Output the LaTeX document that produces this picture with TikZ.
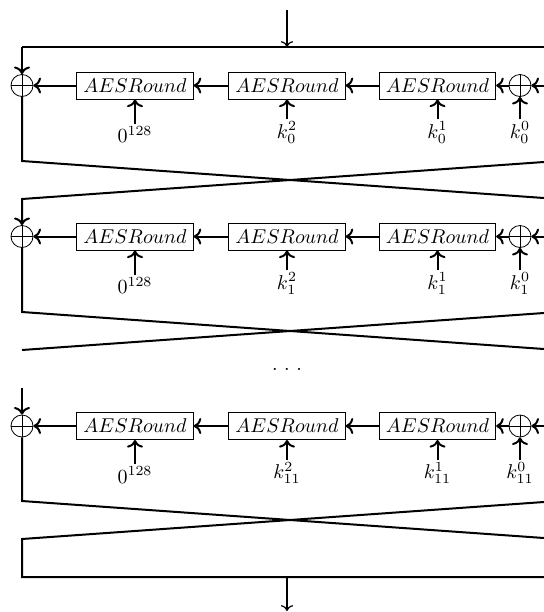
\documentclass[tikz,border=0pt]{standalone}
\usetikzlibrary{arrows.meta}
\begin{document}
\begin{tikzpicture}[x=0.5pt,y=-0.5pt,
  frame/.style={line width=1pt},
  io/.style={line width=0.6pt},
  roundbox/.style={draw,line width=0.4pt,rectangle,inner sep=3.33pt},
  xorop/.style={draw,line width=0.4pt,circle,minimum size=11pt,inner sep=0pt,
    path picture={\draw[line width=0.4pt]
      (path picture bounding box.north) -- (path picture bounding box.south)
      (path picture bounding box.west) -- (path picture bounding box.east);}},
  keylab/.style={inner sep=1pt}]
\useasboundingbox (0,0) rectangle (544,612);
\clip (0,0) rectangle (544,612);

% input and top rail
\coordinate (in) at (287,10);
\coordinate (topmid) at (287,47);
\coordinate (tl) at (22,47);
\coordinate (tr) at (558,47);
\draw[io,->] (in) -- (topmid);
\draw[frame] (tr) -- (tl);

% three rounds: name / row y / key index
\foreach \r/\y/\kk in {a/85.5/0, b/236.5/1, c/426/11} {
  \node[xorop] (xl\r) at (22,\y) {};
  \node[roundbox] (b1\r) at (135,\y) {$AESRound$};
  \node[roundbox] (b2\r) at (287,\y) {$AESRound$};
  \node[roundbox] (b3\r) at (437.5,\y) {$AESRound$};
  \node[xorop] (xr\r) at (520,\y) {};
  \coordinate (ri\r) at (560,\y);
  \node[keylab] (k1\r) at (135,\y+49) {$0^{128}$};
  \node[keylab] (k2\r) at (287,\y+47) {$k_{\kk}^2$};
  \node[keylab] (k3\r) at (437.5,\y+47) {$k_{\kk}^1$};
  \node[keylab] (k4\r) at (520,\y+47) {$k_{\kk}^0$};
  \draw[frame,->] (ri\r) -- (xr\r);
  \draw[frame,->] (xr\r) -- (b3\r);
  \draw[frame,->] (b3\r) -- (b2\r);
  \draw[frame,->] (b2\r) -- (b1\r);
  \draw[frame,->] (b1\r) -- (xl\r);
  \draw[frame,->] (k1\r) -- (b1\r);
  \draw[frame,->] (k2\r) -- (b2\r);
  \draw[frame,->] (k3\r) -- (b3\r);
  \draw[frame,->] (k4\r) -- (xr\r);
}

% round 1 into XOR and swap
\draw[frame,->] (tl) -- (xla);
\coordinate (s1a) at (22,161);  \coordinate (s1b) at (558,199);
\coordinate (s1c) at (558,161); \coordinate (s1d) at (22,199);
\draw[frame] (xla) -- (s1a) -- (s1b);
\draw[frame,->] (s1c) -- (s1d) -- (xlb);

% round 2 swap
\coordinate (s2a) at (22,312);  \coordinate (s2b) at (558,350);
\coordinate (s2c) at (558,312); \coordinate (s2d) at (22,350);
\draw[frame] (xlb) -- (s2a) -- (s2b);
\draw[frame] (s2c) -- (s2d);

\node[anchor=base,inner sep=0pt] (dots) at (287,370) {.\kern3.3pt.\kern3.3pt.};

% round 3 entry
\coordinate (r3in) at (22,388);
\draw[frame,->] (r3in) -- (xlc);

% final swap and bottom rail
\coordinate (s3a) at (22,501);  \coordinate (s3b) at (558,539);
\coordinate (s3c) at (558,501); \coordinate (s3d) at (22,539);
\coordinate (bl) at (22,577);   \coordinate (br) at (558,577);
\draw[frame] (xlc) -- (s3a) -- (s3b);
\draw[frame] (s3c) -- (s3d) -- (bl) -- (br);
\coordinate (botmid) at (287,577);
\coordinate (out) at (287,611);
\draw[io,->] (botmid) -- (out);
\end{tikzpicture}
\end{document}
